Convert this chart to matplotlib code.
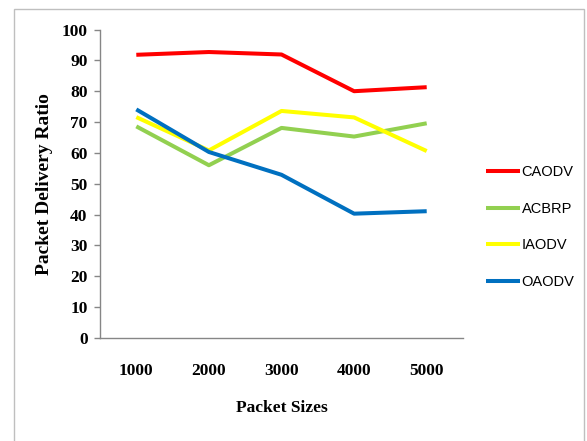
import numpy as np
import matplotlib
matplotlib.use("Agg")
from matplotlib import pyplot as plt
from matplotlib.patches import Rectangle

packet_sizes = ["1000", "2000", "3000", "4000", "5000"]
caodv = [91.8, 92.7, 91.9, 80.0, 81.3]
acbrp = [68.6, 56.0, 68.1, 65.3, 69.6]
iaodv = [71.6, 60.8, 73.6, 71.5, 60.6]
oaodv = [74.1, 60.3, 52.9, 40.3, 41.1]

series = [("CAODV", caodv, "#FF0000"),
          ("ACBRP", acbrp, "#92D050"),
          ("IAODV", iaodv, "#FFFF00"),
          ("OAODV", oaodv, "#0070C0")]

fig = plt.figure(figsize=(5.87, 4.41), dpi=100)
fig.patches.append(Rectangle((14 / 587, -0.1), (584 - 14) / 587, 1.1 - 9 / 441,
                             transform=fig.transFigure, fill=False,
                             edgecolor="#BFBFBF", linewidth=1.0))

ax = fig.add_axes([100 / 587, 1 - 338 / 441, 363 / 587, (338 - 29.5) / 441])
x = np.arange(len(packet_sizes))
for name, vals, col in series:
    ax.plot(x, vals, color=col, linewidth=2.9, label=name, solid_capstyle="butt")

ax.set_xlim(-0.5, len(packet_sizes) - 0.5)
ax.set_ylim(0, 100)
ax.set_yticks(range(0, 101, 10))
ax.set_xticks(x)
ax.set_xticklabels(packet_sizes)

serif = "Liberation Serif"
for lab in ax.get_xticklabels() + ax.get_yticklabels():
    lab.set_fontfamily(serif)
    lab.set_fontweight("bold")
    lab.set_fontsize(12.5)

ax.tick_params(axis="x", length=0, pad=18)
ax.tick_params(axis="y", length=4, width=1, color="#868686", pad=5)
for s in ["top", "right"]:
    ax.spines[s].set_visible(False)
for s in ["left", "bottom"]:
    ax.spines[s].set_color("#868686")
    ax.spines[s].set_linewidth(1.0)

ax.set_xlabel("Packet Sizes", fontfamily=serif, fontweight="bold", fontsize=12.5, labelpad=15)
ax.set_ylabel("Packet Delivery Ratio", fontfamily=serif, fontweight="bold", fontsize=14,
              labelpad=6)

fig.legend(loc="upper left", bbox_to_anchor=(486 / 587, 1 - 165 / 441),
           frameon=False, borderpad=0, borderaxespad=0, handlelength=2.35,
           handletextpad=0.1, labelspacing=1.55,
           prop={"family": "Liberation Sans", "size": 10.5})

fig.savefig("out.png", dpi=100)
